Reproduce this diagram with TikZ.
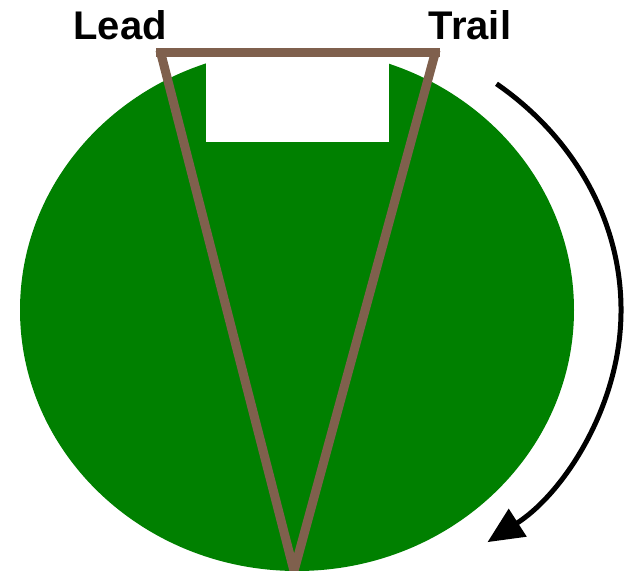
\documentclass[tikz,border=0pt]{standalone}
\usepackage{fontspec}
\setmainfont{Liberation Sans}
\usetikzlibrary{arrows.meta}
\definecolor{leafgreen}{RGB}{0,128,0}
\definecolor{stickbrown}{RGB}{127,96,77}
\begin{document}
\begin{tikzpicture}[x=1pt,y=1pt,
  stick/.style={draw=stickbrown,line width=9pt},
  label/.style={font=\bfseries\fontsize{40}{48}\selectfont,anchor=base,inner sep=0pt}]
\useasboundingbox (0,0) rectangle (625,571);
\fill[leafgreen] (297,261) ellipse [x radius=277, y radius=261];
\fill[white] (206,429) rectangle (389,528);
\draw[stick] (156,518) -- (440,518);
\draw[stick] (160,521) -- (294,0);
\draw[stick] (436,521) -- (294,0);
\node[label] (lead) at (120,531) {Lead};
\node[label] (trail) at (470,531) {Trail};
\coordinate (arcstart) at (496.5,487.2);
\draw[line width=5pt,-{Triangle[length=36pt,width=32pt]}] (arcstart) arc[start angle=52,end angle=-54,x radius=324,y radius=287];
\end{tikzpicture}
\end{document}
